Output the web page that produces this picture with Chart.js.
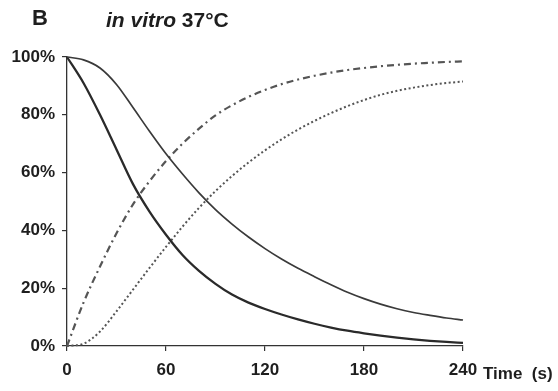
<!DOCTYPE html>
<html>
<head>
<meta charset="utf-8">
<script src="https://cdn.jsdelivr.net/npm/chart.js@4.4.1/dist/chart.umd.min.js"></script>
<style>
  body { margin: 0; background: #fff; }
  #wrap { position: relative; width: 558px; height: 391px; }
  .lbl { position: absolute; font-family: "Liberation Sans", Arial, sans-serif; font-weight: bold; color: #1e1e1e; line-height: 1; white-space: pre; }
</style>
</head>
<body>
<div id="wrap">
  <canvas id="kinetics" width="558" height="391"></canvas>
  <div class="lbl" style="left:32px; top:7px; font-size:22px;">B</div>
  <div class="lbl" style="left:106px; top:9px; font-size:21px;"><i>in vitro</i> 37°C</div>
  <div class="lbl" style="left:483px; top:365px; font-size:17px;">Time  (s)</div>
</div>
<script>
// time points (s)
var Zeit = [0, 10, 20, 30, 40, 50, 60, 70, 80, 90, 100, 110, 120,
            130, 140, 150, 160, 170, 180, 190, 200, 210, 220, 230, 240];
// slow decay (solid, thin)
var langsam = [100, 99, 96.2, 90.5, 82.5, 74.3, 66.5, 59.5, 53, 47.2, 42.2, 37.7, 33.7,
               30.1, 26.9, 24, 21.2, 18.6, 16.4, 14.5, 12.9, 11.6, 10.6, 9.7, 9];
// fast decay (solid, thick)
var schnell = [100, 91, 80, 68, 56, 46.5, 38.5, 31.5, 26, 21.5, 17.8, 15, 12.8,
               10.9, 9.2, 7.7, 6.4, 5.3, 4.4, 3.6, 2.9, 2.3, 1.8, 1.4, 1.1];
// fast rise (dash-dot)
var anstiegSchnell = [0, 15, 27.5, 39, 49, 57, 64, 70, 75.2, 79.8, 83.3, 86.2, 88.6,
                      90.6, 92.2, 93.5, 94.6, 95.5, 96.2, 96.8, 97.3, 97.7, 98, 98.3, 98.5];
// slow rise (dotted)
var anstiegLangsam = [0, 0.8, 5, 12, 19.5, 27, 34.3, 41.3, 47.8, 53.6, 58.8, 63.5, 67.7,
                      71.5, 74.9, 77.9, 80.6, 83, 85.1, 86.9, 88.3, 89.4, 90.3, 91, 91.5];
var xTicks = [0, 60, 120, 180, 240];
var yTicks = [0, 20, 40, 60, 80, 100];

function punkte(werte) {
  var p = [];
  for (var i in Zeit) {
    p.push({ x: Zeit[i], y: werte[i] });
  }
  return p;
}

var chartdata = {
  datasets: [
    { label: "slow", data: punkte(langsam), borderColor: "#3a3a3a", borderWidth: 1.7 },
    { label: "fast", data: punkte(schnell), borderColor: "#2a2a2a", borderWidth: 2.3 },
    { label: "fast rise", data: punkte(anstiegSchnell), borderColor: "#555", borderWidth: 2.2, borderDash: [7, 4, 2, 4] },
    { label: "slow rise", data: punkte(anstiegLangsam), borderColor: "#555", borderWidth: 2, borderDash: [2, 2.5] }
  ]
};
chartdata.datasets.forEach(function (d) {
  d.pointRadius = 0;
  d.fill = false;
  d.cubicInterpolationMode = "monotone";
  d.clip = 6;
});

var tickFont = { family: "'Liberation Sans', Arial, sans-serif", size: 17, weight: "bold" };

var ctx = document.getElementById("kinetics");
var myChart = new Chart(ctx, {
  type: "line",
  data: chartdata,
  options: {
    responsive: false,
    animation: false,
    layout: { padding: { top: 57, right: 95, left: 0, bottom: 0 } },
    plugins: { legend: { display: false }, tooltip: { enabled: false } },
    scales: {
      x: {
        type: "linear",
        min: 0,
        max: 240,
        afterBuildTicks: function (s) { s.ticks = xTicks.map(function (v) { return { value: v }; }); },
        afterFit: function (s) { s.height = 45; },
        grid: { drawOnChartArea: false, drawTicks: true, tickLength: 5, color: "#333", lineWidth: 1.2 },
        border: { color: "#333", width: 1.3 },
        ticks: { font: tickFont, color: "#1e1e1e", padding: 9, maxRotation: 0 }
      },
      y: {
        min: 0,
        max: 100,
        afterBuildTicks: function (s) { s.ticks = yTicks.map(function (v) { return { value: v }; }); },
        afterFit: function (s) { s.width = 67; },
        grid: { drawOnChartArea: false, drawTicks: true, tickLength: 5, color: "#333", lineWidth: 1.2 },
        border: { color: "#333", width: 1.3 },
        ticks: {
          font: tickFont,
          color: "#1e1e1e",
          padding: 7,
          callback: function (v) { return v + "%"; }
        }
      }
    }
  }
});
</script>
</body>
</html>
